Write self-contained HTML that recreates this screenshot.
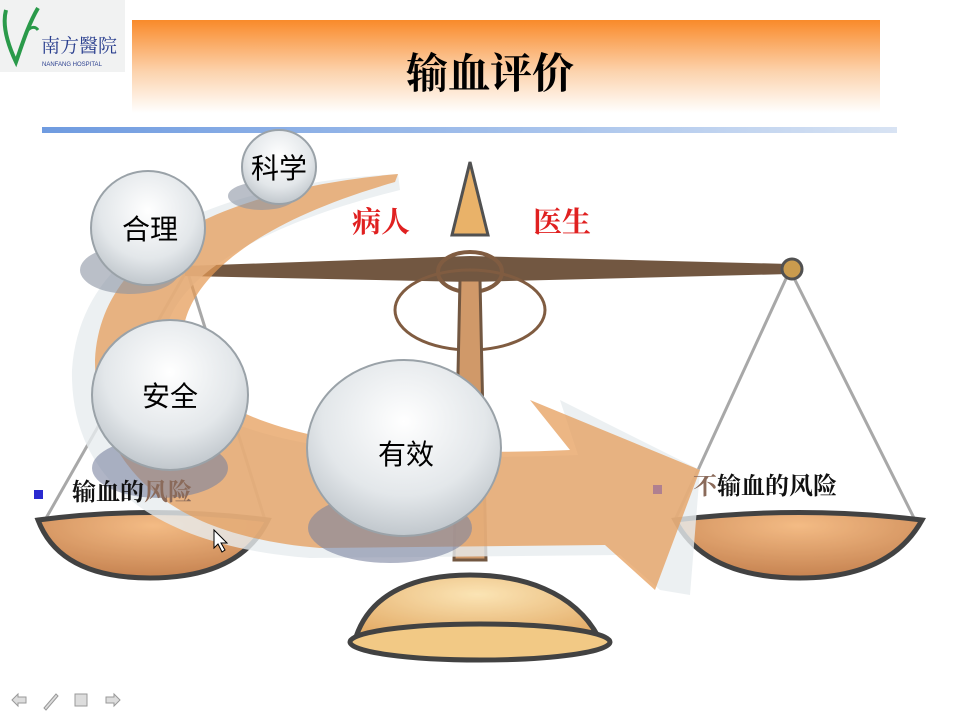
<!DOCTYPE html>
<html><head><meta charset="utf-8"><style>
body{margin:0;width:960px;height:720px;overflow:hidden;background:#fff;font-family:"Liberation Sans","Noto Sans CJK SC",sans-serif}
</style></head><body>
<svg width="960" height="720" viewBox="0 0 960 720" xmlns="http://www.w3.org/2000/svg" style="position:absolute;left:0;top:0">
<defs>
<linearGradient id="hdr" x1="0" y1="0" x2="0" y2="1"><stop offset="0" stop-color="#f98a2a"/><stop offset="0.55" stop-color="#fcd2ac"/><stop offset="1" stop-color="#ffffff"/></linearGradient>
<linearGradient id="ln" x1="0" y1="0" x2="1" y2="0"><stop offset="0" stop-color="#6f9be0"/><stop offset="0.6" stop-color="#a9c4ec"/><stop offset="1" stop-color="#d8e3f3"/></linearGradient>
<radialGradient id="ball" cx="0.5" cy="0.35" r="0.7"><stop offset="0" stop-color="#ffffff"/><stop offset="0.6" stop-color="#e3e7ea"/><stop offset="1" stop-color="#b9c0c6"/></radialGradient>
<radialGradient id="pan" cx="0.5" cy="0.2" r="0.9"><stop offset="0" stop-color="#f2b070"/><stop offset="1" stop-color="#b5642a"/></radialGradient>
<radialGradient id="base" cx="0.5" cy="0.3" r="0.7"><stop offset="0" stop-color="#fbe0a8"/><stop offset="1" stop-color="#e0a050"/></radialGradient>
</defs>
<rect x="0" y="0" width="125" height="72" fill="#f1f2f2"/>
<path d="M6 10 C2 25 8 45 16 62 C22 45 28 25 38 8" fill="none" stroke="#2a9a4a" stroke-width="4"/>
<path d="M28 30 C32 26 36 27 38 30" fill="none" stroke="#2a9a4a" stroke-width="3"/>
<text x="41" y="52" font-size="19" fill="#2a3f8f" font-family="'Noto Serif CJK SC',serif">南方醫院</text>
<text x="42" y="66" font-size="6" fill="#2a3f8f">NANFANG HOSPITAL</text>
<rect x="132" y="20" width="748" height="93" fill="url(#hdr)"/>
<text x="490" y="88" font-size="42" text-anchor="middle" fill="#000" font-weight="bold" font-family="'Noto Serif CJK SC',serif">输血评价</text>
<rect x="42" y="127" width="855" height="6" fill="url(#ln)"/>
<g opacity="0.85">
<line x1="187" y1="270" x2="45" y2="520" stroke="#999" stroke-width="3"/>
<line x1="187" y1="270" x2="265" y2="520" stroke="#999" stroke-width="3"/>
<line x1="790" y1="270" x2="675" y2="520" stroke="#999" stroke-width="3"/>
<line x1="790" y1="270" x2="915" y2="520" stroke="#999" stroke-width="3"/>
<path d="M185 266 L470 256 L790 264 L790 274 L470 282 L185 276 Z" fill="#5a3a20"/>
<circle cx="792" cy="269" r="10" fill="#c08a30" stroke="#333" stroke-width="3"/>
<path d="M470 162 L488 235 L452 235 Z" fill="#e6a550" stroke="#333" stroke-width="3"/>
<ellipse cx="470" cy="272" rx="32" ry="20" fill="none" stroke="#6a4020" stroke-width="4"/>
<ellipse cx="470" cy="310" rx="75" ry="40" fill="none" stroke="#6a4020" stroke-width="3"/>
<path d="M460 280 L480 280 L486 560 L454 560 Z" fill="#c88850" stroke="#5a3a20" stroke-width="3"/>
<path d="M355 640 C370 590 420 575 470 575 C520 575 575 590 600 640 Z" fill="url(#base)" stroke="#222" stroke-width="5"/>
<ellipse cx="480" cy="642" rx="130" ry="18" fill="#f0c070" stroke="#222" stroke-width="5"/>
<path d="M38 520 Q150 505 268 520 Q240 578 150 578 Q60 578 38 520 Z" fill="url(#pan)" stroke="#222" stroke-width="5"/>
<path d="M675 520 Q800 505 922 520 Q890 578 800 578 Q705 578 675 520 Z" fill="url(#pan)" stroke="#222" stroke-width="5"/>
</g>
<path d="M398 174 C200 185 80 250 72 370 C70 470 140 545 310 558 L620 555 L660 590 L690 595 L700 470 L560 400 L578 455 C400 462 240 450 180 390 C140 340 160 250 400 190 Z" fill="#e7ecef" opacity="0.8"/>
<path d="M398 174 C220 190 100 250 95 360 C95 460 160 535 320 548 L605 545 L655 590 L700 470 L530 400 L570 450 C400 458 260 440 200 385 C160 340 175 245 395 182 Z" fill="#e59a55" opacity="0.72"/>
<g>
<ellipse cx="262" cy="196" rx="34" ry="14" fill="#8c94a4" opacity="0.6"/>
<circle cx="279" cy="167" r="37" fill="url(#ball)" stroke="#9aa2a8" stroke-width="2"/>
<text x="279" y="178" font-size="28" text-anchor="middle">科学</text>
<ellipse cx="130" cy="270" rx="50" ry="24" fill="#8c94a4" opacity="0.6"/>
<circle cx="148" cy="228" r="57" fill="url(#ball)" stroke="#9aa2a8" stroke-width="2"/>
<text x="150" y="239" font-size="28" text-anchor="middle">合理</text>
<ellipse cx="160" cy="468" rx="68" ry="30" fill="#7c84a0" opacity="0.6"/>
<ellipse cx="170" cy="395" rx="78" ry="75" fill="url(#ball)" stroke="#9aa2a8" stroke-width="2"/>
<text x="170" y="406" font-size="28" text-anchor="middle">安全</text>
<ellipse cx="390" cy="528" rx="82" ry="35" fill="#7c84a0" opacity="0.6"/>
<ellipse cx="404" cy="448" rx="97" ry="88" fill="url(#ball)" stroke="#9aa2a8" stroke-width="2"/>
<text x="406" y="464" font-size="28" text-anchor="middle">有效</text>
</g>
<text x="352" y="232" font-size="29" fill="#e02020" font-weight="bold" font-family="'Noto Serif CJK SC',serif">病人</text>
<text x="533" y="232" font-size="29" fill="#e02020" font-weight="bold" font-family="'Noto Serif CJK SC',serif">医生</text>
<rect x="34" y="490" width="9" height="9" fill="#2a2ad0"/>
<text x="72" y="500" font-size="24" font-weight="bold" fill="#111" font-family="'Noto Serif CJK SC',serif">输血的<tspan fill="#8a6a5a">风险</tspan></text>
<rect x="653" y="485" width="9" height="9" fill="#b08090"/>
<text x="693" y="494" font-size="24" font-weight="bold" fill="#111" font-family="'Noto Serif CJK SC',serif"><tspan fill="#8a6a5a">不</tspan>输血的风险</text>
<path d="M214 530 L214 548 L218 544 L222 552 L225 550 L221 543 L227 543 Z" fill="#fff" stroke="#000" stroke-width="1"/>
<g fill="#ddd" stroke="#999" stroke-width="1">
<path d="M12 700 L18 694 L18 697 L26 697 L26 703 L18 703 L18 706 Z"/>
<path d="M44 708 L56 694 L58 696 L46 710 Z"/>
<rect x="75" y="694" width="12" height="12"/>
<path d="M120 700 L114 694 L114 697 L106 697 L106 703 L114 703 L114 706 Z"/>
</g>
</svg>
</body></html>
